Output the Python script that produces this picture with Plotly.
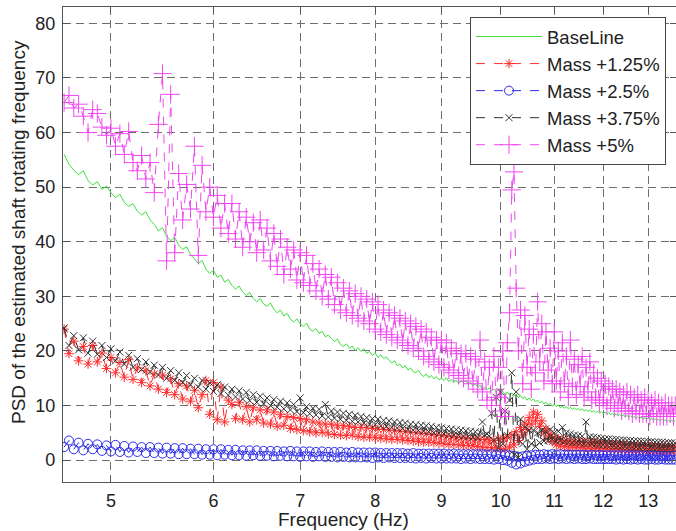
import numpy as np
import plotly.graph_objects as go

# ---- data ----
freq = np.round(4.6 + 0.04 * np.arange(227), 2)   # 4.60 ... 13.64 Hz

baseline = [56.0, 54.2, 53.1, 52.3, 53.0, 51.2, 50.4, 51.0, 49.6, 50.2,
            49.0, 48.1, 48.7, 47.2, 46.5, 47.0, 45.6, 44.9, 45.5, 44.0,
            43.2, 42.0, 42.6, 41.0, 40.2, 40.8, 39.4, 38.6, 39.1, 37.6,
            36.9, 36.0, 36.6, 35.0, 34.2, 34.8, 33.5, 33.9, 32.6, 33.1,
            32.0, 31.3, 31.9, 30.8, 30.2, 30.7, 29.6, 29.0, 29.6, 28.6,
            28.2, 28.8, 27.6, 27.0, 27.5, 26.4, 26.9, 25.8, 25.3, 25.9,
            25.0, 24.5, 25.1, 24.0, 23.6, 24.1, 23.2, 23.6, 22.6, 22.9,
            22.3, 21.7, 22.2, 21.2, 20.8, 21.3, 20.5, 20.9, 20.1, 20.6,
            19.9, 20.4, 19.6, 19.9, 19.2, 19.6, 18.8, 19.3, 18.6, 18.9,
            18.3, 17.8, 18.2, 17.3, 17.6, 16.9, 17.3, 16.5, 16.9, 16.2,
            16.0, 16.5, 15.7, 15.3, 15.8, 15.1, 15.5, 14.9, 15.3, 14.7,
            15.0, 14.6, 15.1, 14.4, 14.8, 14.2, 14.7, 14.0, 14.5, 14.2,
            14.6, 13.9, 14.3, 13.6, 14.0, 13.3, 13.7, 13.0, 13.4, 12.9,
            13.2, 12.7, 13.0, 12.5, 12.9, 12.3, 12.6, 12.0, 12.5, 11.9,
            12.3, 11.8, 12.1, 11.5, 11.8, 11.3, 11.6, 11.0, 11.4, 10.9,
            11.2, 10.7, 11.0, 10.5, 10.8, 10.3, 10.6, 10.1, 10.4, 9.9,
            10.2, 9.8, 10.1, 9.6, 9.9, 9.5, 9.8, 9.4, 9.7, 9.3,
            9.6, 9.2, 9.5, 9.1, 9.4, 9.0, 9.3, 8.9, 9.2, 8.8,
            9.1, 8.7, 9.0, 8.6, 8.9, 8.5, 8.8, 8.4, 8.7, 8.3,
            8.6, 8.2, 8.5, 8.1, 8.4, 8.0, 8.3, 7.9, 8.2, 7.9,
            8.1, 7.8, 8.0, 7.7, 7.9, 7.6, 7.9, 7.5, 7.8, 7.5,
            7.7, 7.4, 7.7, 7.3, 7.6, 7.3, 7.5, 7.2, 7.5, 7.2,
            7.4, 7.1, 7.3, 7.0, 7.3, 7.0, 7.2]

mass_1_25 = [24.0, 19.5, 21.8, 18.2, 20.8, 17.6, 21.0, 18.0, 19.6, 16.8,
             18.8, 16.0, 17.9, 15.2, 18.4, 14.8, 16.9, 14.2, 16.4, 13.6,
             15.8, 13.0, 15.6, 12.4, 14.9, 12.0, 14.0, 11.2, 13.6, 10.8,
             12.8, 9.6, 12.0, 14.6, 8.4, 14.2, 7.4, 13.4, 7.0, 11.0,
             10.2, 7.6, 10.6, 7.4, 9.8, 7.0, 9.6, 7.4, 9.2, 6.8,
             9.2, 6.6, 8.8, 6.2, 8.4, 6.4, 8.0, 5.8, 7.8, 5.6,
             7.6, 5.4, 7.4, 5.2, 7.0, 5.0, 6.8, 5.1, 6.6, 4.8,
             6.6, 4.7, 6.4, 4.6, 6.3, 4.5, 6.2, 4.6, 6.0, 4.3,
             6.0, 4.2, 5.9, 4.2, 5.8, 4.1, 5.7, 4.0, 5.6, 3.9,
             5.5, 3.8, 5.4, 3.8, 5.3, 3.7, 5.2, 3.6, 5.1, 3.5,
             5.0, 3.4, 4.9, 3.3, 4.8, 3.3, 4.7, 3.2, 4.6, 3.1,
             4.5, 3.0, 4.4, 2.9, 4.3, 2.9, 4.2, 2.8, 4.1, 2.7,
             4.0, 2.7, 3.9, 2.6, 3.9, 2.5, 3.8, 2.4, 3.8, 2.3,
             3.7, 2.3, 3.6, 2.2, 3.9, 2.1, 4.0, 2.0, 4.2, 2.4,
             4.6, 2.8, 5.2, 3.6, 6.0, 4.6, 6.8, 5.6, 7.8, 6.6,
             8.8, 7.2, 8.4, 6.2, 7.2, 5.0, 5.8, 4.0, 4.8, 3.4,
             4.2, 2.8, 3.9, 2.6, 3.7, 2.5, 3.6, 2.4, 3.5, 2.4,
             3.4, 2.3, 3.4, 2.3, 3.3, 2.2, 3.3, 2.2, 3.2, 2.2,
             3.2, 2.1, 3.2, 2.1, 3.1, 2.1, 3.1, 2.0, 3.1, 2.0,
             3.0, 2.0, 3.0, 1.9, 2.9, 1.9, 2.9, 1.9, 2.9, 1.8,
             2.8, 1.8, 2.8, 1.8, 2.8, 1.8, 2.7, 1.7, 2.7, 1.7,
             2.7, 1.7, 2.7, 1.7, 2.6, 1.6, 2.6, 1.6, 2.6, 1.6,
             2.6, 1.6, 2.5, 1.6, 2.5, 1.5, 2.5]

mass_2_5 = [2.4, 3.6, 2.0, 3.2, 1.8, 3.0, 2.0, 2.9, 1.7, 2.7,
            1.6, 2.8, 1.5, 2.6, 1.4, 2.5, 1.5, 2.4, 1.3, 2.4,
            1.3, 2.3, 1.2, 2.3, 1.2, 2.2, 1.1, 2.2, 1.1, 2.1,
            1.1, 2.1, 1.0, 2.0, 1.0, 2.0, 0.9, 2.0, 1.0, 1.9,
            0.9, 1.9, 0.9, 1.8, 0.8, 1.8, 0.9, 1.8, 0.8, 1.7,
            0.8, 1.7, 0.7, 1.7, 0.8, 1.6, 0.7, 1.7, 0.7, 1.6,
            0.6, 1.6, 0.7, 1.6, 0.6, 1.5, 0.7, 1.6, 0.6, 1.5,
            0.6, 1.5, 0.5, 1.5, 0.6, 1.4, 0.5, 1.5, 0.5, 1.4,
            0.5, 1.4, 0.5, 1.4, 0.4, 1.4, 0.5, 1.3, 0.4, 1.3,
            0.5, 1.3, 0.4, 1.3, 0.4, 1.3, 0.4, 1.2, 0.4, 1.3,
            0.3, 1.2, 0.4, 1.2, 0.3, 1.2, 0.4, 1.2, 0.3, 1.2,
            0.3, 1.2, 0.3, 1.1, 0.3, 1.2, 0.3, 1.1, 0.2, 1.1,
            0.3, 1.1, 0.2, 1.1, 0.3, 1.1, 0.2, 1.1, 0.2, 1.0,
            0.2, 1.1, 0.1, 1.0, 0.2, 1.1, 0.0, 1.0, -0.1, 0.9,
            -0.5, 0.8, -0.8, 0.6, -0.6, 0.7, -0.3, 0.8, -0.1, 0.9,
            0.1, 1.0, 0.2, 1.0, 0.2, 1.1, 0.3, 1.0, 0.2, 1.1,
            0.3, 1.0, 0.2, 1.1, 0.3, 1.0, 0.2, 1.0, 0.3, 1.0,
            0.2, 1.0, 0.3, 1.0, 0.2, 1.0, 0.2, 0.9, 0.3, 1.0,
            0.2, 0.9, 0.2, 1.0, 0.2, 0.9, 0.2, 0.9, 0.2, 0.9,
            0.2, 0.9, 0.1, 0.9, 0.2, 0.9, 0.1, 0.9, 0.2, 0.9,
            0.1, 0.9, 0.2, 0.9, 0.1, 0.8, 0.2, 0.9, 0.1, 0.8,
            0.1, 0.8, 0.2, 0.9, 0.1, 0.8, 0.1, 0.8, 0.2, 0.8,
            0.1, 0.8, 0.1, 0.8, 0.1, 0.8, 0.1]

mass_3_75 = [24.2, 21.0, 22.8, 20.2, 22.4, 19.6, 21.8, 19.4, 21.0, 18.8,
             20.4, 18.2, 19.8, 17.6, 19.2, 17.0, 18.6, 16.6, 18.0, 16.2,
             17.4, 15.6, 17.0, 15.0, 16.4, 14.6, 16.0, 14.2, 15.5, 13.8,
             15.0, 13.4, 14.6, 13.0, 14.2, 12.6, 13.8, 12.2, 13.4, 11.9,
             13.0, 11.6, 12.7, 11.2, 12.4, 10.9, 12.0, 10.6, 11.7, 10.3,
             11.4, 10.0, 11.1, 9.7, 10.8, 9.4, 10.5, 9.2, 10.2, 8.9,
             11.4, 8.7, 9.8, 8.5, 9.5, 8.3, 9.3, 8.1, 10.2, 7.9,
             9.0, 7.7, 8.8, 7.5, 8.6, 7.3, 8.4, 7.1, 8.2, 7.0,
             8.0, 6.8, 7.8, 6.6, 7.6, 6.5, 7.5, 6.3, 7.3, 6.2,
             7.2, 6.0, 7.0, 5.9, 6.9, 5.8, 6.8, 5.6, 6.6, 5.5,
             6.5, 5.4, 6.4, 5.3, 6.3, 5.2, 6.2, 5.0, 6.0, 4.9,
             5.9, 4.8, 5.8, 4.7, 5.7, 4.6, 5.6, 4.5, 5.5, 4.4,
             5.4, 4.3, 5.3, 4.2, 5.2, 4.1, 5.1, 7.0, 4.6, 4.8,
             4.4, 8.6, 3.6, 11.5, 2.2, 12.5, 3.0, 9.0, 4.5, 11.0,
             16.0, 1.0, 12.5, 0.5, 7.5, 3.0, 6.0, 2.0, 5.5, 3.0,
             5.5, 2.5, 5.0, 3.2, 5.5, 3.5, 5.2, 3.6, 5.6, 3.8,
             5.0, 3.5, 5.3, 3.6, 6.0, 3.4, 5.0, 3.3, 4.8, 3.2,
             4.6, 3.2, 4.5, 3.1, 4.4, 3.0, 7.0, 3.1, 4.3, 3.0,
             4.2, 2.9, 4.1, 2.8, 4.0, 2.8, 3.9, 2.7, 3.9, 2.7,
             3.8, 2.6, 3.8, 2.6, 3.7, 2.5, 3.7, 2.5, 3.6, 2.5,
             3.6, 2.4, 3.5, 2.4, 3.5, 2.3, 3.5, 2.3, 3.4, 2.3,
             3.4, 2.2, 3.4, 2.2, 3.3, 2.2, 3.3, 2.1, 3.3, 2.1,
             3.2, 2.1, 3.2, 2.1, 3.2, 2.0, 3.1]

mass_5 = [65.5, 66.8, 64.5, 65.2, 63.0, 60.0, 64.2, 63.5, 61.0, 59.5,
          60.8, 57.5, 59.8, 56.0, 60.2, 54.5, 53.0, 55.8, 51.5, 54.5,
          49.0, 61.5, 70.8, 36.5, 67.0, 38.0, 52.5, 44.0, 50.5, 46.0,
          57.5, 37.5, 54.0, 45.5, 50.0, 44.5, 48.5, 42.5, 47.0, 41.5,
          47.0, 40.5, 45.5, 39.0, 44.5, 40.0, 43.5, 38.0, 44.0, 38.5,
          42.5, 36.5, 41.5, 35.5, 40.5, 34.0, 39.0, 35.0, 38.5, 33.0,
          38.0, 32.5, 37.5, 32.0, 36.0, 31.0, 35.0, 30.0, 34.0, 29.5,
          33.5, 28.5, 32.5, 27.5, 31.5, 27.0, 31.0, 26.5, 30.5, 26.0,
          30.0, 25.5, 29.5, 25.0, 29.0, 24.0, 28.5, 23.5, 27.5, 23.0,
          27.0, 22.5, 26.5, 22.0, 26.0, 21.5, 25.5, 21.0, 25.0, 20.5,
          24.5, 20.0, 24.0, 19.0, 23.5, 18.5, 22.5, 18.0, 22.0, 17.5,
          22.0, 17.0, 21.5, 16.5, 20.5, 16.0, 20.0, 15.5, 19.5, 15.0,
          19.5, 14.5, 19.0, 14.0, 18.5, 13.0, 22.0, 12.5, 18.0, 11.0,
          17.0, 10.0, 19.0, 11.5, 17.0, 9.0, 20.0, 8.0, 21.5, 27.0,
          49.5, 52.8, 31.5, 20.0, 27.5, 14.0, 26.5, 17.0, 24.0, 13.0,
          23.0, 16.0, 29.0, 18.0, 25.0, 14.5, 23.5, 16.5, 20.5, 14.0,
          23.5, 14.5, 20.0, 12.5, 21.5, 14.0, 19.0, 11.5, 22.0, 13.5,
          18.5, 12.0, 17.5, 13.5, 19.0, 11.5, 17.0, 12.5, 18.0, 11.0,
          16.0, 11.5, 15.0, 10.5, 14.5, 11.0, 14.0, 10.0, 13.5, 10.5,
          13.0, 9.5, 13.0, 10.0, 12.5, 9.0, 12.0, 9.5, 12.5, 9.0,
          12.0, 8.5, 11.5, 9.0, 12.0, 8.5, 11.0, 8.5, 11.5, 8.5,
          11.0, 8.0, 10.5, 8.5, 11.0, 8.0, 10.5, 8.0, 10.0, 8.0,
          10.5, 8.0, 10.0, 8.5, 10.0, 8.0, 10.0]

series_names = ["BaseLine", "Mass +1.25%", "Mass +2.5%", "Mass +3.75%", "Mass +5%"]
x_ticks = [5, 6, 7, 8, 9, 10, 11, 12, 13]
y_ticks = [0, 10, 20, 30, 40, 50, 60, 70, 80]
x_title = "Frequency (Hz)"
y_title = "PSD of the estimated shaft rotating frequency"

# ---- styles ----
FONT = "Liberation Sans, Arial, Helvetica, sans-serif"
green = "rgb(60,225,60)"
red = "rgb(255,45,45)"
blue = "rgb(45,45,235)"
black = "rgb(50,50,50)"
magenta = "rgb(240,70,240)"

fig = go.Figure()
fig.add_trace(go.Scatter(x=freq, y=baseline, mode="lines", name=series_names[0],
                         legendgroup="g0",
                         line=dict(color=green, width=1)))
fig.add_trace(go.Scatter(x=freq, y=mass_1_25, mode="lines+markers", name=series_names[1],
                         legendgroup="g1",
                         line=dict(color=red, width=1, dash="dash"),
                         marker=dict(symbol="asterisk-open", size=8, color=red,
                                     line=dict(color=red, width=1))))
fig.add_trace(go.Scatter(x=freq, y=mass_2_5, mode="lines+markers", name=series_names[2],
                         legendgroup="g2",
                         line=dict(color=blue, width=1, dash="dash"),
                         marker=dict(symbol="circle-open", size=9, color=blue,
                                     line=dict(color=blue, width=1))))
fig.add_trace(go.Scatter(x=freq, y=mass_3_75, mode="lines+markers", name=series_names[3],
                         legendgroup="g3",
                         line=dict(color=black, width=1, dash="dash"),
                         marker=dict(symbol="x-thin-open", size=7, color=black,
                                     line=dict(color=black, width=1))))
fig.add_trace(go.Scatter(x=freq, y=mass_5, mode="lines+markers", name=series_names[4],
                         legendgroup="g4",
                         line=dict(color=magenta, width=1, dash="dash"),
                         marker=dict(symbol="cross-thin-open", size=13, color=magenta,
                                     line=dict(color=magenta, width=1))))

W, H = 676, 531
L, R, T, B = 63, 0, 7, 49
pw, ph = W - L - R, H - T - B

axis_common = dict(showline=True, linecolor="#555", linewidth=1.2, mirror="ticks",
                   ticks="inside", ticklen=6, tickcolor="#555", tickwidth=1,
                   showgrid=True, gridcolor="#6e6e6e", gridwidth=1.2, griddash="8px,5px",
                   zeroline=False,
                   tickfont=dict(family=FONT, size=18, color="#222"))

fig.update_xaxes(type="log", range=[np.log10(4.591), np.log10(13.66)],
                 tickmode="array", tickvals=x_ticks, ticktext=[str(v) for v in x_ticks],
                 ticklabelstandoff=2, **axis_common)
fig.update_yaxes(range=[-4, 83], tickmode="array", tickvals=y_ticks,
                 ticktext=[str(v) for v in y_ticks], ticklabelstandoff=3, **axis_common)

fig.update_layout(
    width=W, height=H,
    margin=dict(l=L, r=R, t=T, b=B, pad=0),
    plot_bgcolor="white", paper_bgcolor="white",
    font=dict(family=FONT, size=18, color="#222"),
    legend=dict(x=(470 - L) / pw, y=(H - B - 17) / ph, xanchor="left", yanchor="top",
                bgcolor="white", bordercolor="#444", borderwidth=1,
                font=dict(family=FONT, size=18.5, color="#222"),
                traceorder="grouped", tracegroupgap=0, itemwidth=66),
    annotations=[
        dict(text=x_title, xref="paper", yref="paper", x=(343 - L) / pw, y=(H - B - 519) / ph,
             xanchor="center", yanchor="middle", showarrow=False,
             font=dict(family=FONT, size=19, color="#222")),
        dict(text=y_title, xref="paper", yref="paper", x=(18 - L) / pw, y=(H - B - 232) / ph,
             xanchor="center", yanchor="middle", showarrow=False, textangle=-90,
             font=dict(family=FONT, size=19, color="#222")),
    ],
)

fig.write_html("out.html", config={"displayModeBar": False},
               post_script="document.body.style.margin='0';document.body.style.overflow='hidden';")
